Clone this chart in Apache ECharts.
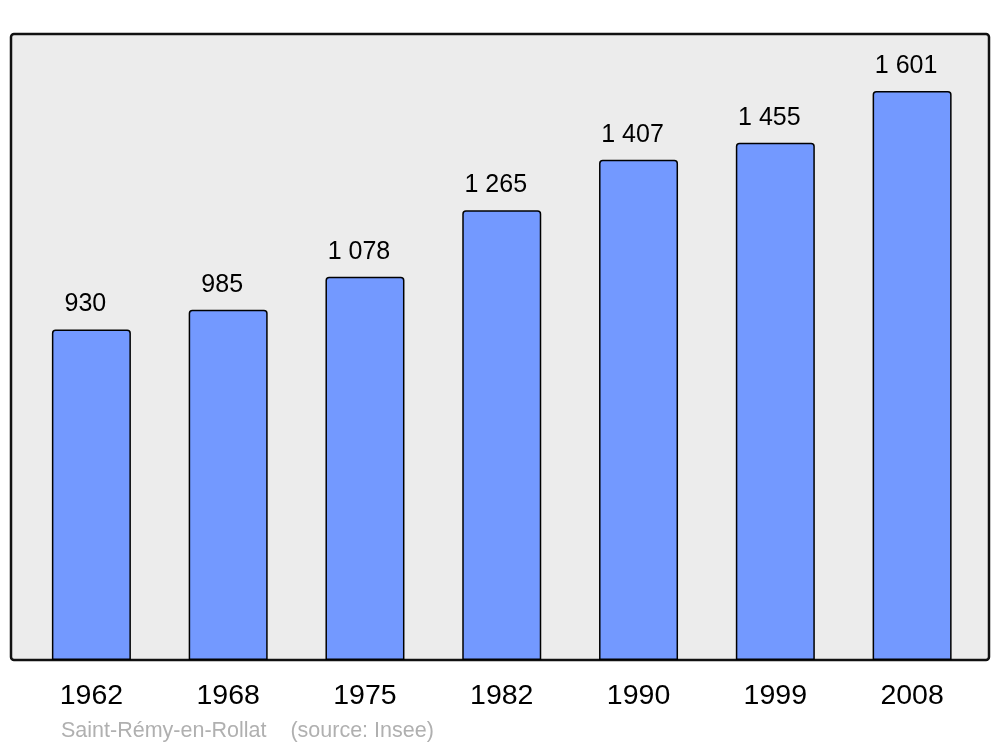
<!DOCTYPE html>
<html><head><meta charset="utf-8">
<script src="https://cdn.jsdelivr.net/npm/echarts@6/dist/echarts.min.js"></script>
<style>html,body{margin:0;padding:0;background:#fff}#c{width:1000px;height:747px}</style>
</head><body><div id="c"></div>
<script>
const years = ['1962','1968','1975','1982','1990','1999','2008'];
const population = [930, 985, 1078, 1265, 1407, 1455, 1601];
const footerText = 'Saint-Rémy-en-Rollat    (source: Insee)';

function fmt(v){ return String(v).replace(/\B(?=(\d{3})+(?!\d))/g, ' '); }

const chart = echarts.init(document.getElementById('c'), null, {renderer:'canvas'});
chart.setOption({
  animation:false,
  backgroundColor:'#fff',
  textStyle:{fontFamily:'Liberation Sans, Arial, sans-serif'},
  graphic:[
    {type:'rect', z:0, shape:{x:11, y:34, width:978, height:626, r:3},
     style:{fill:'#ececec', stroke:'#111', lineWidth:2.5}},
    {type:'text', left:61, top:720, z:10,
     style:{text:footerText, fill:'#b0b0b0', font:'21.5px "Liberation Sans", Arial, sans-serif'}}
  ],
  grid:{left:23, right:19.5, top:34, bottom:87, containLabel:false},
  xAxis:{type:'category', data:years, boundaryGap:true,
    axisLine:{show:false}, axisTick:{show:false},
    axisLabel:{color:'#000', fontSize:28.5, margin:22, fontFamily:'Liberation Sans, Arial, sans-serif'}},
  yAxis:{type:'value', min:0, max:1761, show:false, splitLine:{show:false}},
  series:[{type:'bar', data:population, barWidth:79, z:2,
    itemStyle:{color:'#7399ff', borderColor:'#000', borderWidth:1.5, borderRadius:[3,3,0,0]},
    label:{show:true, position:'top', distance:12.5, offset:[-6,0], color:'#000', fontSize:25,
      fontFamily:'Liberation Sans, Arial, sans-serif', formatter:p=>fmt(p.value)}}]
});
</script></body></html>
